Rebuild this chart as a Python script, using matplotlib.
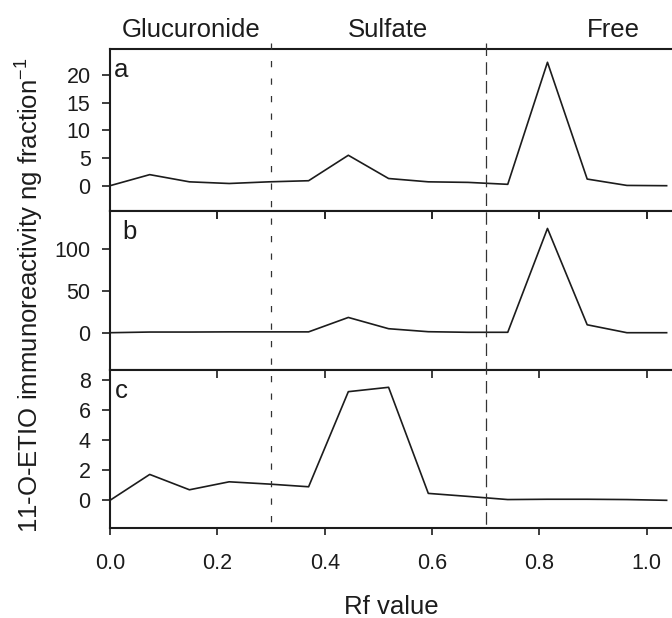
import matplotlib
matplotlib.use("Agg")
import matplotlib.pyplot as plt
from matplotlib.lines import Line2D
from matplotlib.transforms import blended_transform_factory

plt.rcParams['font.family'] = ['Liberation Sans', 'DejaVu Sans']
plt.rcParams['mathtext.fontset'] = 'custom'
plt.rcParams['mathtext.rm'] = 'Liberation Sans'
plt.rcParams['mathtext.default'] = 'regular'

# Rf positions of the fractions
rf = [0.0, 0.074, 0.148, 0.222, 0.296, 0.370, 0.444, 0.519,
      0.593, 0.667, 0.741, 0.815, 0.889, 0.963, 1.037]

# immunoreactivity per fraction (ng) for the three panels
series_a = [0.0, 2.0, 0.7, 0.4, 0.7, 0.9, 5.5, 1.3, 0.7, 0.6, 0.25, 22.3, 1.2, 0.05, 0.0]
series_b = [0.0, 0.8, 0.8, 1.0, 1.0, 1.0, 18.3, 4.8, 1.2, 0.5, 0.5, 125.0, 9.5, 0.0, 0.0]
series_c = [0.0, 1.72, 0.70, 1.23, 1.08, 0.90, 7.22, 7.51, 0.46, 0.26, 0.05, 0.07, 0.07, 0.05, 0.0]

panel_letters = ['a', 'b', 'c']
yticks = [[0, 5, 10, 15, 20], [0, 50, 100], [0, 2, 4, 6, 8]]
ylims = [(-4.57, 24.7), (-44.7, 145.9), (-1.84, 8.66)]

# fraction boundaries and their headers
bounds = [0.30, 0.70]
headers = ['Glucuronide', 'Sulfate', 'Free']
header_x = [0.152, 0.517, 0.937]

xticks = [0.0, 0.2, 0.4, 0.6, 0.8, 1.0]

INK = '#1c1c1c'
TICK_FS = 15.5
BIG_FS = 18.5

W, H = 672, 618
fig = plt.figure(figsize=(W / 100, H / 100), dpi=100)

left = 110 / W
edges = [49, 211, 370, 528]  # panel borders in pixels from the top
axes = []
for i in range(3):
    top = 1 - edges[i] / H
    bottom = 1 - edges[i + 1] / H
    ax = fig.add_axes([left, bottom, 1.0 - left, top - bottom])
    axes.append(ax)

letter_dx = [4, 12, 5]  # pixels right of the spine

for i, (ax, ys) in enumerate(zip(axes, [series_a, series_b, series_c])):
    ax.plot(rf, ys, color=INK, lw=1.2)
    ax.set_xlim(0, 1.047)
    ax.set_ylim(*ylims[i])
    ax.set_yticks(yticks[i])
    ax.set_xticks(xticks)
    ax.spines['right'].set_visible(False)
    for s in ['left', 'top', 'bottom']:
        ax.spines[s].set_linewidth(1.5)
        ax.spines[s].set_color(INK)
    ax.tick_params(axis='y', direction='out', length=6, width=1.2, pad=8,
                   labelsize=TICK_FS, colors=INK)
    if i == 0:
        ax.tick_params(axis='x', bottom=False, top=False, labelbottom=False)
    elif i == 1:
        ax.tick_params(axis='x', bottom=False, top=True, direction='in',
                       length=6, width=1.2, labelbottom=False)
    else:
        ax.tick_params(axis='x', bottom=True, top=True, direction='out',
                       length=5, width=1.2, pad=13, labelsize=TICK_FS, colors=INK)
        ax.xaxis.set_ticks_position('both')
        for t in ax.xaxis.get_major_ticks():
            t.tick2line.set_marker(3)  # inward tick on the top edge
            t.tick2line.set_markersize(6)
        ax.set_xticklabels([f'{v:.1f}' for v in xticks])
    ax.text(letter_dx[i] / (W - 110), 1 - 28 / (edges[i + 1] - edges[i]),
            panel_letters[i], transform=ax.transAxes, fontsize=BIG_FS,
            color=INK, ha='left', va='baseline')

# dashed boundaries spanning all three panels
trans = blended_transform_factory(axes[2].transData, fig.transFigure)
fig.add_artist(Line2D([bounds[0], bounds[0]], [1 - 43 / H, 1 - 528 / H],
                      transform=trans, color='#333333', lw=0.9,
                      dashes=(5, 9)))
fig.add_artist(Line2D([bounds[1], bounds[1]], [1 - 43 / H, 1 - 528 / H],
                      transform=trans, color='#333333', lw=0.9,
                      dashes=(10, 5)))

for label, hx in zip(headers, header_x):
    fig.text(hx, 1 - 37 / H, label, transform=trans, fontsize=BIG_FS,
             color=INK, ha='center', va='baseline')

fig.text(30 / W, 1 - 295 / H, '11-O-ETIO immunoreactivity ng fraction$^{-1}$',
         rotation=90, ha='center', va='center', fontsize=BIG_FS, color=INK)
fig.text((110 + 672) / 2 / W, 1 - 614 / H, 'Rf value', ha='center',
         va='baseline', fontsize=BIG_FS, color=INK)

fig.savefig('out.png', dpi=100)
